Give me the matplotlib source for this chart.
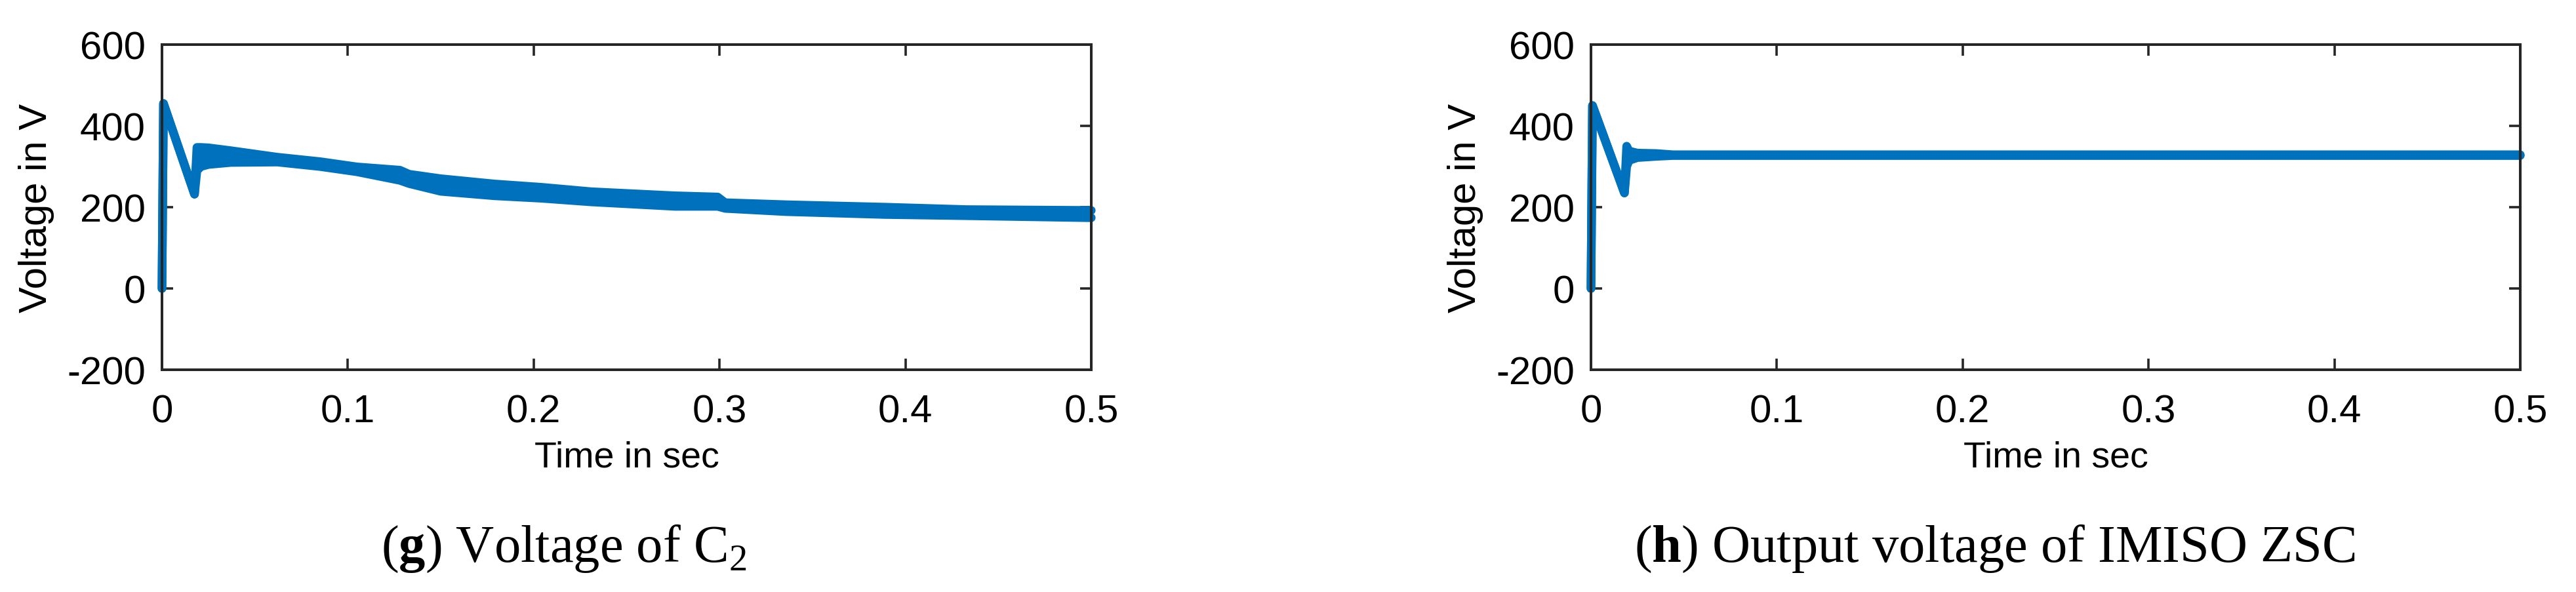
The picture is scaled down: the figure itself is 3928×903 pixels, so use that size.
# -*- coding: utf-8 -*-
# Voltage of C2 and output voltage of the IMISO ZSC (simulation traces)

import numpy as np
import matplotlib.pyplot as plt

plt.rcParams['font.family'] = 'Liberation Sans'
plt.rcParams['axes.unicode_minus'] = False
plt.rcParams['mathtext.fontset'] = 'custom'
plt.rcParams['mathtext.rm'] = 'Liberation Serif'
plt.rcParams['mathtext.bf'] = 'Liberation Serif:bold'

# (g) voltage of C2, upper / lower edge of the ripple band (V)
t_g = [0, 0.0008, 0.0175, 0.0188, 0.021, 0.025, 0.037, 0.062, 0.085, 0.105,
       0.128, 0.133, 0.15, 0.179, 0.204, 0.231, 0.276, 0.299, 0.303, 0.336,
       0.389, 0.433, 0.5]
hi_g = [0, 455, 232, 347, 347, 346, 339, 323, 312, 299,
        291, 281, 270, 257, 249, 238, 228, 225, 211, 206,
        200, 194, 192]
lo_g = [0, 455, 232, 290, 300, 305, 310, 311, 300, 287,
        266, 258, 239, 228, 222, 213, 202, 202, 197, 189,
        182, 179, 174]

# (h) output voltage of IMISO ZSC (V)
t_h = [0, 0.0008, 0.018, 0.0192, 0.0205, 0.025, 0.035, 0.044, 0.5]
hi_h = [0, 450, 235, 350, 338, 333, 332, 329, 329]
lo_h = [0, 450, 235, 300, 315, 322, 325, 327, 327]

x_ticks = [0, 0.1, 0.2, 0.3, 0.4, 0.5]
x_labels = ['0', '0.1', '0.2', '0.3', '0.4', '0.5']
y_ticks = [-200, 0, 200, 400, 600]
y_labels = ['-200', '0', '200', '400', '600']

blue = '#0072BD'
dark = '#262626'


def draw_panel(ax, t, hi, lo):
    '''Draws one MATLAB style trace: thick line on both band edges and
    the band filled in between.'''
    ax.fill_between(t, lo, hi, color=blue, lw=0)
    for edge in (hi, lo):
        ax.plot(t, edge, color=blue, lw=9.5, solid_joinstyle='round',
                solid_capstyle='round', clip_on=False)
    ax.set_xlim(0, 0.5)
    ax.set_ylim(-200, 600)
    ax.set_xticks(x_ticks)
    ax.set_xticklabels(x_labels)
    ax.set_yticks(y_ticks)
    ax.set_yticklabels(y_labels)
    ax.tick_params(direction='in', length=12, width=2.6, colors=dark,
                   labelcolor='black', labelsize=43, top=True, right=True)
    ax.tick_params(axis='x', pad=26)
    ax.tick_params(axis='y', pad=18)
    for s in ax.spines.values():
        s.set_linewidth(2.9)
        s.set_color(dark)
        s.set_zorder(3)
    ax.set_xlabel('Time in sec', fontsize=40, labelpad=12)
    ax.set_ylabel('Voltage in V', fontsize=43, labelpad=14)


fig = plt.figure(figsize=(39.28, 9.04), dpi=100)

W, H = 3928.0, 904.0
ax1 = fig.add_axes([247 / W, 1 - 565 / H, 1417 / W, 496 / H])
ax2 = fig.add_axes([2426 / W, 1 - 565 / H, 1417 / W, 496 / H])

draw_panel(ax1, t_g, hi_g, lo_g)
draw_panel(ax2, t_h, hi_h, lo_h)

# sub-figure captions
fig.text(860 / W, 1 - 857 / H, r'($\mathbf{g}$) Voltage of C$_2$',
         family='Liberation Serif', fontsize=58, ha='center', va='baseline')
fig.text(3042 / W, 1 - 857 / H, r'($\mathbf{h}$) Output voltage of IMISO ZSC',
         family='Liberation Serif', fontsize=58, ha='center', va='baseline')

fig.savefig('out.png', dpi=100, facecolor='white')
